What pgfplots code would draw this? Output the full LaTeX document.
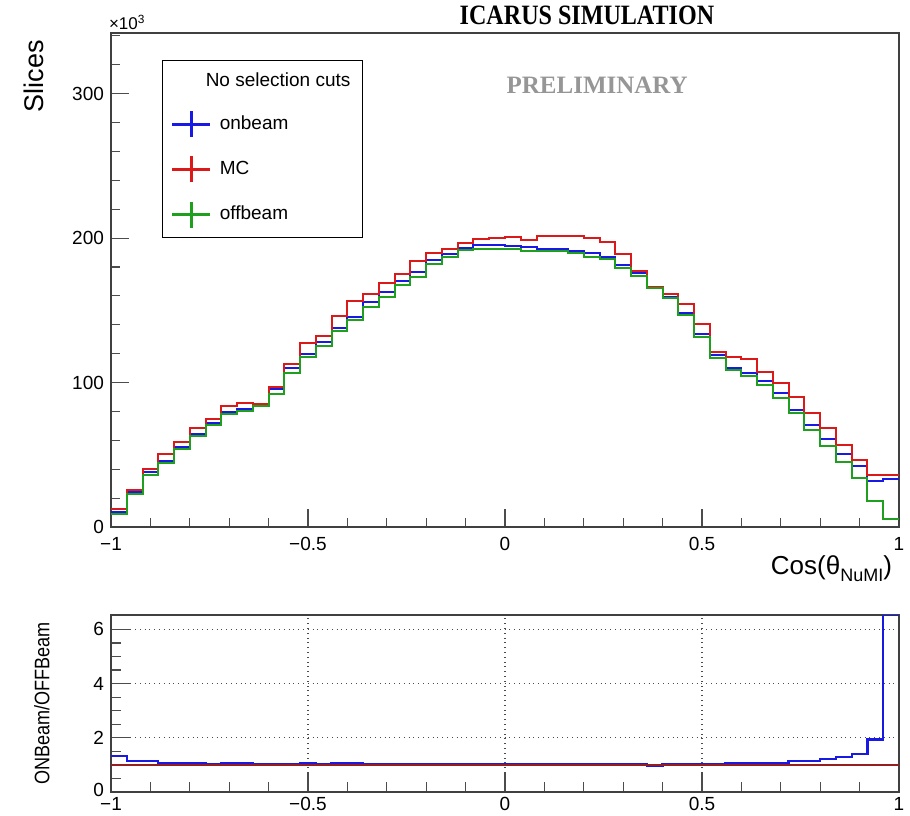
\documentclass[border=0pt]{standalone}
\usepackage{pgfplots}
\pgfplotsset{compat=1.18}
\usepackage{pgfplotstable}
\usepackage{fontspec}
\setmainfont{Liberation Sans}
\newfontfamily\timesfont{Liberation Serif}

\definecolor{onbeam}{RGB}{25,25,230}
\definecolor{mc}{RGB}{220,25,25}
\definecolor{offbeam}{RGB}{30,160,30}
\definecolor{ratioline}{RGB}{150,30,30}
\definecolor{prelim}{RGB}{150,150,150}

% bin left edges, last row repeats the last bin at x=1 (values in 10^3)
\pgfplotstableread{
x      onbeam  mc     offbeam
-1.00  10.6   12.2    8.8
-0.96  24.0   25.6   22.6
-0.92  37.8   40.4   36.2
-0.88  45.7   50.5   44.1
-0.84  55.6   58.6   54.2
-0.80  64.4   68.5   63.0
-0.76  72.2   74.5   70.6
-0.72  79.3   83.7   78.0
-0.68  81.9   86.0   80.5
-0.64  85.0   85.1   83.7
-0.60  95.3   96.7   92.0
-0.56 110.3  112.8  106.8
-0.52 119.7  127.1  117.9
-0.48 127.8  132.2  125.5
-0.44 137.9  146.0  135.9
-0.40 145.6  156.4  143.3
-0.36 155.5  161.2  152.5
-0.32 162.4  168.6  159.4
-0.28 170.2  175.1  167.3
-0.24 176.7  183.9  173.2
-0.20 184.8  189.8  182.0
-0.16 188.9  192.8  187.1
-0.12 193.3  196.3  191.7
-0.08 195.2  199.1  192.8
-0.04 195.2  200.2  192.8
 0.00 194.7  200.5  192.8
 0.04 194.0  198.6  191.2
 0.08 192.8  201.4  191.0
 0.12 192.6  201.4  190.8
 0.16 191.0  201.4  189.4
 0.20 189.8  200.2  187.1
 0.24 186.6  197.4  185.5
 0.28 181.3  188.9  179.0
 0.32 175.6  177.4  173.7
 0.36 166.3  166.3  165.2
 0.40 159.4  161.2  158.2
 0.44 148.3  154.3  146.7
 0.48 133.6  140.5  131.3
 0.52 119.0  121.3  116.7
 0.56 109.8  117.9  108.7
 0.60 106.3  116.3  104.5
 0.64 101.0  107.0   98.3
 0.68  92.9   99.9   89.0
 0.72  81.0   90.2   78.7
 0.76  70.6   79.1   67.1
 0.80  60.9   68.3   56.1
 0.84  50.5   56.7   45.2
 0.88  42.2   46.4   33.7
 0.92  32.0   36.0   18.2
 0.96  33.2   36.0    5.3
 1.00  33.2   36.0    5.3
}\slices

\pgfplotstableread{
x      ratio
-1.00  1.33
-0.96  1.14
-0.92  1.14
-0.88  1.08
-0.84  1.08
-0.80  1.08
-0.76  1.02
-0.72  1.08
-0.68  1.08
-0.64  1.02
-0.60  1.02
-0.56  1.02
-0.52  1.08
-0.48  1.02
-0.44  1.08
-0.40  1.08
-0.36  1.02
-0.32  1.02
-0.28  1.02
-0.24  1.02
-0.20  1.02
-0.16  1.02
-0.12  1.02
-0.08  1.02
-0.04  1.02
 0.00  1.02
 0.04  1.02
 0.08  1.02
 0.12  1.02
 0.16  1.02
 0.20  1.02
 0.24  1.02
 0.28  1.02
 0.32  1.02
 0.36  0.97
 0.40  1.02
 0.44  1.02
 0.48  1.02
 0.52  1.02
 0.56  1.08
 0.60  1.08
 0.64  1.08
 0.68  1.08
 0.72  1.15
 0.76  1.15
 0.80  1.22
 0.84  1.30
 0.88  1.40
 0.92  1.94
 0.96  6.53
 1.00  6.53
}\ratio

\pgfplotsset{
  rootaxis/.style={
    scale only axis, width=394pt,
    xmin=-1, xmax=1,
    clip mode=individual,
    axis line style={black!75, line width=0.7pt},
    tick align=inside, xtick pos=bottom, ytick pos=left,
    tick style={black!70, line width=0.6pt},
    major tick length=9pt, minor tick length=4.5pt,
    xtick={-1,-0.5,0,0.5,1},
    xticklabels={−1,−0.5,0,0.5,1},
    minor xtick={-0.9,-0.8,-0.7,-0.6,-0.4,-0.3,-0.2,-0.1,0.1,0.2,0.3,0.4,0.6,0.7,0.8,0.9},
    tick label style={font=\fontsize{9.5}{10}\selectfont},
  },
}

\begin{document}
\begin{tikzpicture}
\useasboundingbox (-55.5pt,-144pt) rectangle (399.5pt,263.5pt);

\begin{axis}[rootaxis,
  height=247pt,
  ymin=0, ymax=342,
  ytick={0,100,200,300},
  yticklabels={0,100,200,300},
  minor ytick={20,40,60,80,120,140,160,180,220,240,260,280,320,340},
  xticklabel style={yshift=-1.5pt},
  xlabel={Cos(θ\raisebox{-0.45ex}{\fontsize{9}{9}\selectfont NuMI})},
  xlabel style={at={(rel axis cs:1,0)}, anchor=north east, yshift=-11pt,
    font=\fontsize{13}{13}\selectfont},
  ylabel={Slices},
  ylabel style={at={(rel axis cs:-0.0977,1.0)}, rotate=0, anchor=east,
    font=\fontsize{13.5}{14}\selectfont},
  legend image code/.code={
    \draw[#1, line width=1.6pt] (0pt,0pt) -- (19pt,0pt);
    \draw[#1, line width=1.6pt] (9.5pt,-6.5pt) -- (9.5pt,6.5pt);
  },
  legend style={at={(rel axis cs:0.0647,0.945)}, anchor=north west,
    draw=black, line width=0.6pt, font=\fontsize{9.5}{10}\selectfont,
    inner xsep=4pt, inner ysep=4pt, row sep=8pt, legend cell align=left,
    /tikz/every odd column/.append style={column sep=2pt}},
]
\addlegendimage{empty legend}
\addlegendentry{\hspace{-7pt}No selection cuts\hspace{12pt}}
\addplot[const plot, color=onbeam, line width=1pt] table[x=x, y=onbeam] {\slices};
\addlegendentry{onbeam}
\addplot[const plot, color=mc, line width=1pt] table[x=x, y=mc] {\slices};
\addlegendentry{MC}
\addplot[const plot, color=offbeam, line width=1pt] table[x=x, y=offbeam] {\slices};
\addlegendentry{offbeam}

\node[anchor=base, yshift=4pt, font=\timesfont\bfseries\fontsize{14}{14}\selectfont]
  at (rel axis cs:0.604,1) {\scalebox{0.86}[1]{ICARUS SIMULATION}};
\node[anchor=base, text=prelim, font=\timesfont\bfseries\fontsize{12.5}{13}\selectfont]
  at (rel axis cs:0.617,0.877) {PRELIMINARY};
\node[anchor=south west, inner sep=0pt, yshift=1.5pt, font=\fontsize{8.5}{9}\selectfont]
  at (rel axis cs:-0.003,1) {×10\textsuperscript{3}};
\end{axis}

\begin{axis}[rootaxis,
  at={(0pt,-132.5pt)}, anchor=south west,
  height=88.5pt,
  ymin=0, ymax=6.53,
  ytick={0,2,4,6},
  yticklabels={\raisebox{2.5pt}{0},2,4,6},
  minor ytick={0.5,1,1.5,2.5,3,3.5,4.5,5,5.5,6.5},
  major tick length=10pt, minor tick length=5pt,
  xticklabel style={yshift=1pt},
  xmajorgrids, ymajorgrids,
  major grid style={black!70, dotted, line width=0.6pt},
  ylabel={\scalebox{0.86}[1]{ONBeam/OFFBeam}},
  ylabel style={at={(rel axis cs:-0.0876,0.5)}, anchor=center,
    font=\fontsize{10.5}{11}\selectfont},
]
\addplot[const plot, color=onbeam, line width=1.2pt] table[x=x, y=ratio] {\ratio};
\addplot[color=ratioline, line width=1.2pt] coordinates {(-1,1) (1,1)};
\end{axis}
\end{tikzpicture}
\end{document}
